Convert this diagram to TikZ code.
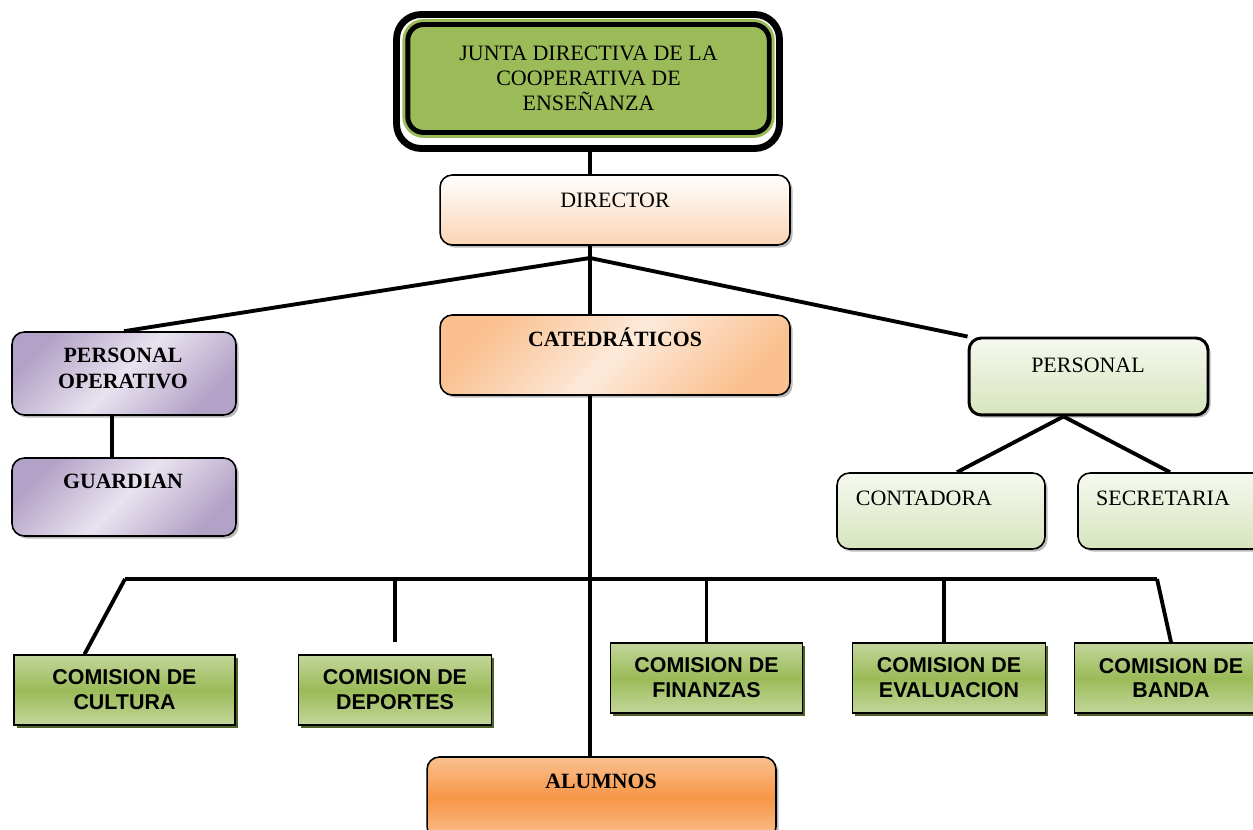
\documentclass[tikz,border=0pt]{standalone}
\usepackage{fontspec}
\setmainfont{Liberation Serif}
\newfontfamily\arialfont{Liberation Sans}
\usetikzlibrary{shadows}

\definecolor{olivegreen}{HTML}{9BBB59}
\definecolor{lightolive}{HTML}{C3D69B}
\definecolor{darkolive}{HTML}{4F6228}
\definecolor{peach}{HTML}{FBD4B4}
\definecolor{peachdark}{HTML}{FAC090}
\definecolor{peachlight}{HTML}{FDEADA}
\definecolor{orangemid}{HTML}{F79646}
\definecolor{lilac}{HTML}{B3A2C7}
\definecolor{lilaclight}{HTML}{E8E3EF}
\definecolor{sage}{HTML}{D7E4BD}
\definecolor{sagelight}{HTML}{F5F9EF}

\tikzset{
  rbox/.style={draw, rounded corners=7pt, line width=0.9pt,
    drop shadow={shadow xshift=1.5pt, shadow yshift=-1.5pt, fill=black!45, opacity=0.6}},
  cbox/.style={draw, line width=0.9pt, top color=lightolive, bottom color=lightolive,
    middle color=olivegreen, minimum height=1.4cm,
    drop shadow={shadow xshift=1.6pt, shadow yshift=-1.6pt, fill=darkolive, opacity=1},
    font=\arialfont\bfseries\fontsize{12.2}{14.2}\selectfont, align=center},
  link/.style={line width=2.2pt},
  txt/.style={font=\fontsize{12.5}{14.2}\selectfont, inner sep=0pt, text height=8.3pt, text depth=0pt},
  btxt/.style={txt, font=\bfseries\fontsize{12.4}{14.6}\selectfont}
}

\begin{document}
\begin{tikzpicture}[x=0.02cm, y=-0.02cm]
\useasboundingbox (0,0) rectangle (1253,830);

% boxes
\draw (588,81.5) node(JDO)[draw, rounded corners=14pt, line width=3.9pt, minimum width=7.66cm, minimum height=2.68cm]{};
\draw (588.5,81.5) node(JD)[draw, rounded corners=9pt, fill=olivegreen, line width=2.8pt,
  preaction={draw=olivegreen, line width=6.2pt}, minimum width=7.23cm, minimum height=2.16cm,
  align=center, yshift=0.06cm, font=\fontsize{12.5}{14.2}\selectfont]{JUNTA DIRECTIVA DE LA\\COOPERATIVA DE\\ENSEÑANZA};

\draw (615,210) node(DIR)[rbox, top color=white, bottom color=peach, minimum width=7cm, minimum height=1.4cm]{};
\draw (615,355) node(CAT)[rbox, left color=peachdark, right color=peachdark, middle color=peachlight,
  shading angle=45, minimum width=7cm, minimum height=1.6cm]{};
\draw (124,373.5) node(PO)[rbox, left color=lilac, right color=lilac, middle color=lilaclight,
  shading angle=45, minimum width=4.48cm, minimum height=1.66cm]{};
\draw (124,497) node(GU)[rbox, left color=lilac, right color=lilac, middle color=lilaclight,
  shading angle=45, minimum width=4.48cm, minimum height=1.56cm]{};
\draw (1088.5,376.5) node(PER)[rbox, line width=1.7pt, top color=sagelight, bottom color=sage,
  minimum width=4.78cm, minimum height=1.54cm]{};
\draw (941,511) node(CO)[rbox, top color=sagelight, bottom color=sage, minimum width=4.16cm, minimum height=1.52cm]{};
\draw (1182,511) node(SE)[rbox, top color=sagelight, bottom color=sage, minimum width=4.16cm, minimum height=1.52cm]{};
\draw (601.5,798) node(AL)[rbox, top color=peachdark, bottom color=peachdark, middle color=orangemid,
  minimum width=6.98cm, minimum height=1.64cm]{};

\draw (124.5,690) node(CU)[cbox, minimum width=4.42cm]{COMISION DE\\CULTURA};
\draw (395,690) node(DE)[cbox, minimum width=3.86cm]{COMISION DE\\DEPORTES};
\draw (706.5,678) node(FI)[cbox, minimum width=3.84cm]{COMISION DE\\FINANZAS};
\draw (949,678) node(EV)[cbox, minimum width=3.86cm]{COMISION DE\\EVALUACION};
\draw (1171,678) node(BA)[cbox, minimum width=3.86cm]{COMISION DE\\BANDA};

% texts
\draw (615,200) node(DIRT)[txt]{DIRECTOR};
\draw (615,339) node(CATT)[btxt]{CATEDRÁTICOS};
\draw (123,368) node(POT)[btxt, text height=, align=center]{PERSONAL\\OPERATIVO};
\draw (123,481) node(GUT)[btxt]{GUARDIAN};
\draw (1088,365) node(PERT)[txt]{PERSONAL};
\draw (924,498) node(COT)[txt]{CONTADORA};
\draw (1163,498) node(SET)[txt]{SECRETARIA};
\draw (601,781) node(ALT)[btxt]{ALUMNOS};

% connectors
\coordinate (J) at (590,258);
\coordinate (BL) at (125,579);
\coordinate (BR) at (1157,579);
\coordinate (PS) at ([xshift=-0.5cm]PER.south);

\draw[link] (J |- JDO.south) -- (J |- DIR.north);
\draw[link] (J |- DIR.south) -- (J) -- (J |- CAT.north);
\draw[link] (J) -- (PO.north);
\draw[link] (J) -- (PER.north west);
\draw[link] ([xshift=-0.24cm]PO.south) -- ([xshift=-0.24cm]GU.north);
\draw[link] (J |- CAT.south) -- (J |- AL.north);
\draw[link] (PS) -- ([xshift=0.32cm]CO.north);
\draw[link] (PS) -- ([xshift=-0.24cm]SE.north);

\draw[link] (BL) -- (BR);
\draw[link] (BL) -- ([xshift=-0.8cm]CU.north);
\draw[link] (DE.north |- BL) -- ([yshift=0.24cm]DE.north);
\draw[link] (FI.north |- BL) -- (FI.north);
\draw[link] ([xshift=-0.1cm]EV.north |- BL) -- ([xshift=-0.1cm]EV.north);
\draw[link] (BR) -- (BA.north);

\end{tikzpicture}
\end{document}
